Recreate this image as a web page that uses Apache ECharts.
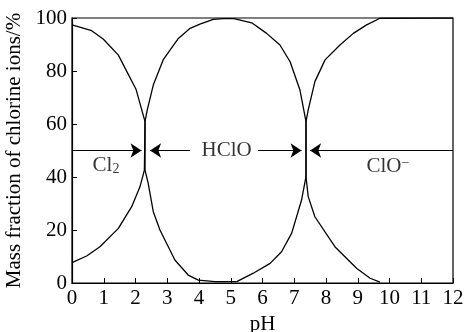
<!DOCTYPE html>
<html>
<head>
<meta charset="utf-8">
<script src="https://cdn.jsdelivr.net/npm/echarts@6/dist/echarts.min.js"></script>
<style>
  html, body { margin: 0; padding: 0; background: #fff; }
  #chart { width: 465px; height: 332px; }
</style>
</head>
<body>
<div id="chart"></div>
<script>
// curves: [pH, mass fraction %]
const cl2Points = [
  [0, 97.4], [0.62, 95.2], [0.99, 92], [1.46, 86], [2.02, 73], [2.3, 60.9],
  [2.3, 42.6], [2.4, 37.6], [2.56, 26.9], [2.77, 20], [3.24, 8.7], [3.66, 3],
  [3.98, 1.1], [4.5, 0.5], [5.19, 0.5]
]
const hcloPoints = [
  [0, 7.7], [0.46, 10.2], [0.88, 13.7], [1.46, 20.6], [1.88, 28.8], [2.14, 36.3],
  [2.28, 42.6], [2.3, 60.9], [2.37, 65.3], [2.56, 74.7], [2.88, 84.4], [3.35, 92.3],
  [3.72, 96.1], [4.03, 97.7], [4.45, 99.5], [4.77, 99.8], [5.1, 99.8], [5.66, 98.2],
  [6.13, 94.2], [6.55, 89.8], [6.87, 83.5], [7.18, 72.8], [7.37, 60.9], [7.37, 40.1],
  [7.44, 32.6], [7.65, 25], [8.28, 13.7], [8.97, 5.5], [9.39, 1.8], [9.7, 0.3]
]
const cloPoints = [
  [5.19, 0.5], [5.71, 3.7], [6.24, 7.4], [6.6, 11.8], [6.92, 18.8], [7.23, 31.3],
  [7.37, 40.1], [7.37, 60.9], [7.44, 65.3], [7.65, 76], [7.97, 84.2], [8.44, 89.8],
  [8.86, 94.2], [9.28, 97.4], [9.7, 99.9], [12, 100]
]

// arrows along the 50 % line: [from, to]
const arrowLines = [
  [[0, 50], [2.19, 50]],
  [[3.72, 50], [2.46, 50]],
  [[5.86, 50], [7.23, 50]],
  [[12, 50], [7.5, 50]]
]

// region labels
const regionNames = ['Cl{sub|2}', 'HClO', 'ClO{sup|−}']
const regionPos = [[1.07, 44.5], [4.87, 50], [9.95, 43.8]]

const xTicks = [0, 1, 2, 3, 4, 5, 6, 7, 8, 9, 10, 11, 12]
const yTicks = [0, 20, 40, 60, 80, 100]

const serif = 'Liberation Serif'
const chart = echarts.init(document.getElementById('chart'))

const curve = (name, data) => ({
  name,
  type: 'line',
  data,
  symbol: 'none',
  lineStyle: { color: '#000', width: 1.3 },
  z: 3
})

chart.setOption({
  animation: false,
  grid: {
    left: 72,
    right: 12,
    top: 18,
    bottom: 49,
    outerBoundsMode: 'none',
    containLabel: false,
    show: true,
    borderColor: '#000',
    borderWidth: 1.2
  },
  xAxis: {
    type: 'value',
    min: xTicks[0],
    max: xTicks[xTicks.length - 1],
    interval: 1,
    name: 'pH',
    nameLocation: 'middle',
    nameGap: 28,
    nameTextStyle: { color: '#000', fontFamily: serif, fontSize: 21 },
    axisLine: { lineStyle: { color: '#000', width: 1.2 } },
    axisTick: { inside: true, length: 5, lineStyle: { color: '#000' } },
    axisLabel: { color: '#000', fontFamily: serif, fontSize: 21, margin: 5 },
    splitLine: { show: false }
  },
  yAxis: {
    type: 'value',
    min: yTicks[0],
    max: yTicks[yTicks.length - 1],
    interval: 20,
    name: 'Mass fraction of chlorine ions/%',
    nameLocation: 'middle',
    nameGap: 37,
    nameTextStyle: { color: '#000', fontFamily: serif, fontSize: 21 },
    axisLine: { show: true, lineStyle: { color: '#000', width: 1.2 } },
    axisTick: { show: true, inside: true, length: 5, lineStyle: { color: '#000' } },
    axisLabel: { color: '#000', fontFamily: serif, fontSize: 21, margin: 5 },
    splitLine: { show: false }
  },
  series: [
    curve('Cl2', cl2Points),
    curve('HClO', hcloPoints),
    curve('ClO-', cloPoints),
    {
      type: 'lines',
      coordinateSystem: 'cartesian2d',
      symbol: ['none', 'arrow'],
      symbolSize: [9, 11],
      lineStyle: { color: '#000', width: 1.2, opacity: 1 },
      data: arrowLines.map((coords) => ({ coords })),
      z: 4
    },
    {
      type: 'scatter',
      symbolSize: 0,
      data: regionPos.map((pos, i) => ({ value: pos, name: regionNames[i] })),
      label: {
        show: true,
        position: 'inside',
        formatter: (p) => p.name,
        color: '#000',
        fontFamily: serif,
        fontSize: 21,
        rich: {
          sub: { fontFamily: serif, fontSize: 14, color: '#000', padding: [8, 0, 0, 0] },
          sup: { fontFamily: serif, fontSize: 14, color: '#000', padding: [0, 0, 8, 0] }
        }
      },
      z: 5
    }
  ]
})
</script>
</body>
</html>
